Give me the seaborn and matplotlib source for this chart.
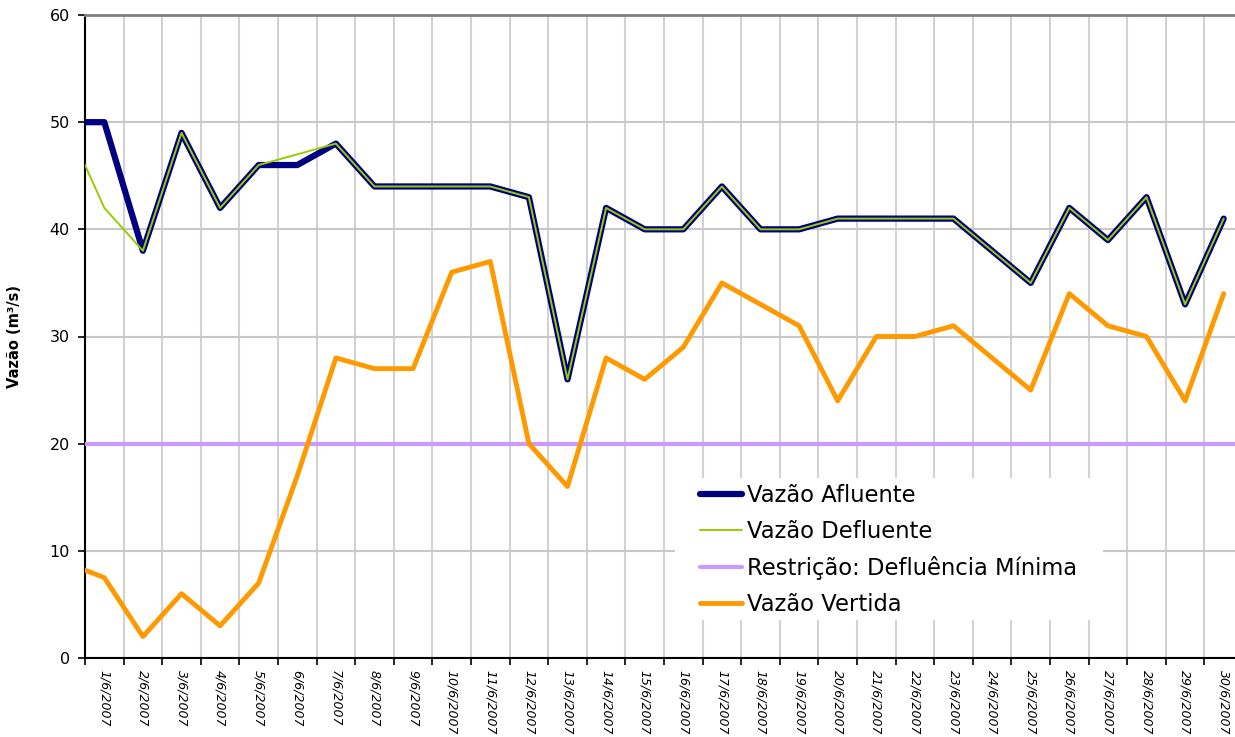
import matplotlib
matplotlib.use("Agg")
import matplotlib.pyplot as plt
from matplotlib.patches import Rectangle
import pandas as pd
import seaborn as sns

# categories (one per day of June 2007)
dias = [f"{d}/6/2007" for d in range(1, 31)]

# sample position in days; the first sample sits on the left edge of the axis
dia = [0.5] + list(range(1, 31))

afluente = [50, 50, 38, 49, 42, 46, 46, 48, 44, 44, 44, 44, 43, 26, 42, 40,
            40, 44, 40, 40, 41, 41, 41, 41, 38, 35, 42, 39, 43, 33, 41]
defluente = [46, 42, 38, 49, 42, 46, 47, 48, 44, 44, 44, 44, 43, 26, 42, 40,
             40, 44, 40, 40, 41, 41, 41, 41, 38, 35, 42, 39, 43, 33, 41]
vertida = [8.2, 7.5, 2, 6, 3, 7, 17, 28, 27, 27, 36, 37, 20, 16, 28, 26,
           29, 35, 33, 31, 24, 30, 30, 31, 28, 25, 34, 31, 30, 24, 34]
defluencia_minima = 20

sns.set_style("white")
plt.rcParams["font.family"] = ["DejaVu Sans"]
plt.rcParams["text.color"] = "black"
plt.rcParams["axes.labelcolor"] = "black"
plt.rcParams["xtick.color"] = "black"
plt.rcParams["ytick.color"] = "black"

df = pd.DataFrame({
    "x": [d - 0.5 for d in dia],
    "afluente": afluente,
    "defluente": defluente,
    "vertida": vertida,
})

W, H = 1235, 737
fig = plt.figure(figsize=(W / 100, H / 100), dpi=100)
ax = fig.add_axes([85 / W, 79 / H, 1158 / W, 643 / H])

sns.lineplot(data=df, x="x", y="afluente", ax=ax, color="#000080", lw=4.5,
             label="Vazão Afluente", zorder=3)
sns.lineplot(data=df, x="x", y="defluente", ax=ax, color="#99CC00", lw=1.4,
             label="Vazão Defluente", zorder=4)
ax.axhline(defluencia_minima, color="#CC99FF", lw=3, label="Restrição: Defluência Mínima", zorder=3)
sns.lineplot(data=df, x="x", y="vertida", ax=ax, color="#FF9900", lw=3.5,
             label="Vazão Vertida", zorder=5)

ax.set_xlim(0, len(dias))
ax.set_ylim(0, 60)
ax.set_yticks(range(0, 61, 10))
ax.set_xticks(range(0, len(dias) + 1))
ax.set_xticklabels([])
ax.set_xticks([i + 0.5 for i in range(len(dias))], minor=True)
ax.set_xticklabels(dias, minor=True, rotation=270, fontsize=9, style="italic",
                   va="top", ha="center")
ax.tick_params(axis="x", which="major", length=5, width=1.2, color="black", direction="out", bottom=True)
ax.tick_params(axis="x", which="minor", length=0, pad=9)
ax.tick_params(axis="y", length=5, width=1.2, color="black", direction="out", left=True,
               labelsize=11.5, pad=6)

ax.set_axisbelow(True)
ax.grid(axis="x", which="major", color="#d2d2d2", lw=1.5)
ax.grid(axis="y", color="#c8c8c8", lw=1.5)

for side in ["left", "bottom"]:
    ax.spines[side].set_color("black")
    ax.spines[side].set_linewidth(1.5)
ax.spines["top"].set_color("#808080")
ax.spines["top"].set_linewidth(2)
ax.spines["right"].set_visible(False)

ax.set_xlabel("")
ax.set_ylabel("Vazão (m³/s)", fontsize=10.5, fontweight="bold")
ax.yaxis.set_label_coords(-0.054, 0.5)

# white panel behind the legend, hiding the grid
ax.add_patch(Rectangle((675 / W, 1 - 620 / H), 428 / W, 142 / H, transform=fig.transFigure,
                       facecolor="white", edgecolor="none", zorder=1))

leg = ax.legend(loc="upper left", bbox_to_anchor=(700 / W, 1 - 484 / H),
                bbox_transform=fig.transFigure, fontsize=16.3, frameon=False,
                borderpad=0, borderaxespad=0, handlelength=1.86, handletextpad=0.22,
                labelspacing=0.58)

fig.savefig("out.png", dpi=100)
